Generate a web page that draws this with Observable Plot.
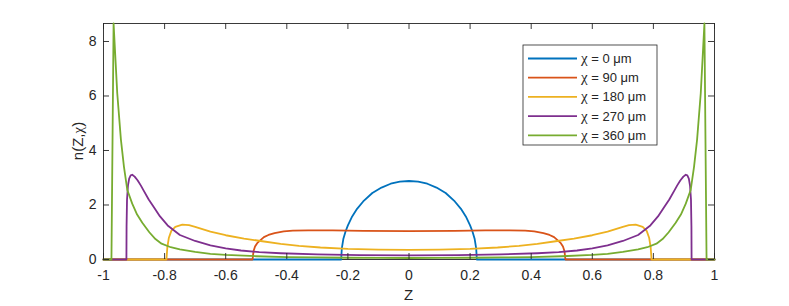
<!DOCTYPE html>
<html><head><meta charset="utf-8">
<script src="https://cdn.jsdelivr.net/npm/d3@7"></script>
<script src="https://cdn.jsdelivr.net/npm/@observablehq/plot@0.6"></script>
<style>body{margin:0;background:#fff;} svg{display:block;}</style>
</head><body><div id="chart"></div>
<script>
const chiValues = [0, 90, 180, 270, 360];
const colors = ["#0072BD", "#D95319", "#EDB120", "#7E2F8E", "#77AC30"];

const z0 = [-1, -0.222, -0.22, -0.215, -0.208, -0.2, -0.186, -0.17, -0.15, -0.12, -0.09, -0.06, -0.03, 0, 0.03, 0.06, 0.09, 0.12, 0.15, 0.17, 0.186, 0.2, 0.208, 0.215, 0.22, 0.222, 1];
const n0 = [0, 0, 0.4, 0.75, 1.02, 1.25, 1.58, 1.86, 2.13, 2.44, 2.64, 2.78, 2.86, 2.88, 2.86, 2.78, 2.64, 2.44, 2.13, 1.86, 1.58, 1.25, 1.02, 0.75, 0.4, 0, 0];

const z90 = [-1, -0.512, -0.509, -0.504, -0.497, -0.486, -0.475, -0.46, -0.44, -0.41, -0.38, -0.33, -0.25, -0.15, 0, 0.15, 0.25, 0.33, 0.38, 0.41, 0.44, 0.46, 0.475, 0.486, 0.497, 0.504, 0.509, 0.512, 1];
const n90 = [0, 0, 0.3, 0.48, 0.6, 0.71, 0.82, 0.9, 0.97, 1.03, 1.06, 1.07, 1.07, 1.05, 1.04, 1.05, 1.07, 1.07, 1.06, 1.03, 0.97, 0.9, 0.82, 0.71, 0.6, 0.48, 0.3, 0, 0];

const z180 = [-1, -0.794, -0.791, -0.786, -0.778, -0.765, -0.742, -0.72, -0.7, -0.65, -0.6, -0.54, -0.48, -0.42, -0.36, -0.29, -0.2, -0.1, 0, 0.1, 0.2, 0.29, 0.36, 0.42, 0.48, 0.54, 0.6, 0.65, 0.7, 0.72, 0.742, 0.765, 0.778, 0.786, 0.791, 0.794, 1];
const n180 = [0, 0, 0.45, 0.8, 1.05, 1.2, 1.28, 1.26, 1.2, 1.02, 0.89, 0.77, 0.67, 0.57, 0.5, 0.44, 0.39, 0.36, 0.35, 0.36, 0.39, 0.44, 0.5, 0.57, 0.67, 0.77, 0.89, 1.02, 1.2, 1.26, 1.28, 1.2, 1.05, 0.8, 0.45, 0, 0];

const z270 = [-1, -0.925, -0.9245, -0.923, -0.92, -0.916, -0.911, -0.906, -0.898, -0.888, -0.878, -0.868, -0.852, -0.835, -0.815, -0.79, -0.75, -0.7, -0.65, -0.6, -0.55, -0.49, -0.42, -0.3, -0.16, 0, 0.16, 0.3, 0.42, 0.49, 0.55, 0.6, 0.65, 0.7, 0.75, 0.79, 0.815, 0.835, 0.852, 0.868, 0.878, 0.888, 0.898, 0.906, 0.911, 0.916, 0.92, 0.923, 0.9245, 0.925, 1];
const n270 = [0, 0, 1.2, 2.2, 2.7, 2.97, 3.09, 3.11, 3.04, 2.9, 2.72, 2.52, 2.2, 1.92, 1.58, 1.25, 0.9, 0.68, 0.52, 0.41, 0.33, 0.27, 0.23, 0.19, 0.16, 0.15, 0.16, 0.19, 0.23, 0.27, 0.33, 0.41, 0.52, 0.68, 0.9, 1.25, 1.58, 1.92, 2.2, 2.52, 2.72, 2.9, 3.04, 3.11, 3.09, 2.97, 2.7, 2.2, 1.2, 0, 0];

const z360 = [-1, -0.974, -0.967, -0.955, -0.943, -0.933, -0.922, -0.906, -0.89, -0.873, -0.85, -0.83, -0.81, -0.78, -0.75, -0.7, -0.65, -0.6, -0.5, -0.4, -0.3, -0.2, -0.1, 0, 0.1, 0.2, 0.3, 0.4, 0.5, 0.6, 0.65, 0.7, 0.75, 0.78, 0.81, 0.83, 0.85, 0.873, 0.89, 0.906, 0.922, 0.933, 0.943, 0.955, 0.967, 0.974, 1];
const n360 = [0, 0, 8.66, 6.1, 4.4, 3.4, 2.55, 2.05, 1.65, 1.35, 1.0, 0.75, 0.58, 0.45, 0.37, 0.28, 0.21, 0.17, 0.12, 0.09, 0.075, 0.065, 0.06, 0.055, 0.06, 0.065, 0.075, 0.09, 0.12, 0.17, 0.21, 0.28, 0.37, 0.45, 0.58, 0.75, 1.0, 1.35, 1.65, 2.05, 2.55, 3.4, 4.4, 6.1, 8.66, 0, 0];

const xTicks = [-1, -0.8, -0.6, -0.4, -0.2, 0, 0.2, 0.4, 0.6, 0.8, 1];
const yTicks = [0, 2, 4, 6, 8];
const yMax = 8.66;
const xLabel = "Z";

const seriesZ = [z0, z90, z180, z270, z360];
const seriesN = [n0, n90, n180, n270, n360];
const rows = seriesZ.flatMap((zs, i) => zs.map((z, j) => ({z, n: seriesN[i][j], chi: chiValues[i]})));

const W = 789, H = 306, mL = 103, mR = 75, mT = 23, mB = 47;
const fw = W - mL - mR, fh = H - mT - mB, tk = 6;
const axisColor = "#262626";

const plot = Plot.plot({
  width: W, height: H, marginLeft: mL, marginRight: mR, marginTop: mT, marginBottom: mB,
  style: {fontFamily: "'Liberation Sans', Arial, sans-serif", fontSize: "14px", color: axisColor, background: "#fff"},
  x: {domain: [-1, 1]},
  y: {domain: [0, yMax]},
  color: {type: "ordinal", domain: chiValues, range: colors},
  marks: [
    Plot.frame({stroke: axisColor, strokeWidth: 0.9}),
    Plot.line(rows, {x: "z", y: "n", z: "chi", stroke: "chi", strokeWidth: 1.8}),
    Plot.tickX(xTicks, {x: d => d, insetTop: fh - tk, stroke: axisColor, strokeWidth: 0.9}),
    Plot.tickX(xTicks, {x: d => d, insetBottom: fh - tk, stroke: axisColor, strokeWidth: 0.9}),
    Plot.tickY(yTicks, {y: d => d, insetRight: fw - tk, stroke: axisColor, strokeWidth: 0.9}),
    Plot.tickY(yTicks, {y: d => d, insetLeft: fw - tk, stroke: axisColor, strokeWidth: 0.9}),
    Plot.axisX(xTicks, {tickSize: 0, tickPadding: 11, tickFormat: d => String(d), label: null}),
    Plot.axisY(yTicks, {tickSize: 0, tickPadding: 7, tickFormat: d => String(d), label: null})
  ]
});
document.getElementById("chart").appendChild(plot);

const svg = d3.select(plot);
// axis labels
svg.append("text").attr("x", mL + fw / 2).attr("y", 300).attr("text-anchor", "middle")
  .attr("font-size", 15).attr("fill", axisColor).text(xLabel);
const yl = svg.append("text").attr("transform", "translate(78," + (mT + fh / 2) + ") rotate(-90)")
  .attr("text-anchor", "middle").attr("dy", "0.35em").attr("font-size", 15).attr("fill", axisColor);
yl.append("tspan").text("n(Z,");
yl.append("tspan").attr("font-family", "'Liberation Serif', serif").text("χ");
yl.append("tspan").text(")");

// legend
const lg = svg.append("g");
lg.append("rect").attr("x", 523).attr("y", 45).attr("width", 134).attr("height", 100)
  .attr("fill", "#fff").attr("stroke", axisColor).attr("stroke-width", 0.8);
chiValues.forEach((c, i) => {
  const y = 58.5 + i * 19.2;
  lg.append("line").attr("x1", 528).attr("x2", 577).attr("y1", y).attr("y2", y)
    .attr("stroke", colors[i]).attr("stroke-width", 1.8);
  const t = lg.append("text").attr("x", 581).attr("y", y).attr("dy", "0.35em")
    .attr("text-anchor", "start").attr("font-size", 13).attr("fill", axisColor);
  t.append("tspan").attr("font-family", "'Liberation Serif', serif").attr("font-size", 15).text("χ");
  t.append("tspan").text(" = " + c + " μm");
});
</script>
</body></html>
